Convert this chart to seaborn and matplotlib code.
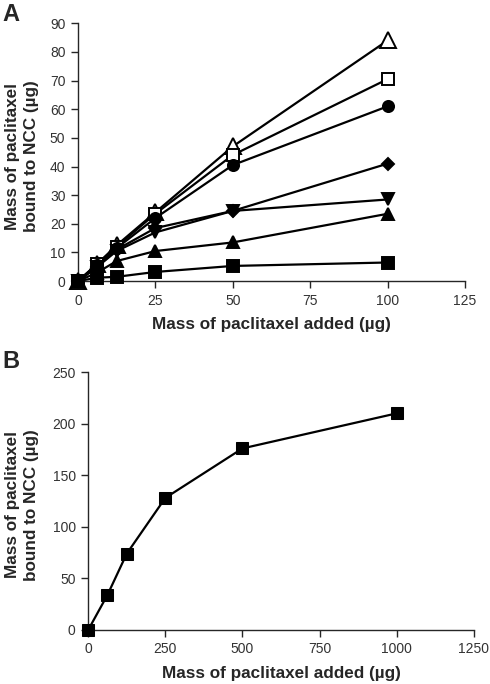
"""
Paclitaxel binding to NCC - panels A and B
"""

import pandas as pd
import matplotlib
matplotlib.use("Agg")
import matplotlib.pyplot as plt
import seaborn as sns

# Panel A data
x_a = [0, 6.25, 12.5, 25, 50, 100]
open_triangle = [0, 6.0, 12.5, 24.0, 47.0, 84.0]
open_square = [0, 6.0, 12.0, 23.5, 44.0, 70.5]
filled_circle = [0, 5.5, 11.5, 22.0, 40.5, 61.0]
filled_diamond = [0, 5.0, 11.0, 18.5, 24.5, 41.0]
down_triangle = [0, 5.0, 10.5, 17.0, 24.5, 28.5]
up_triangle = [0, 3.0, 7.0, 10.5, 13.5, 23.5]
filled_square = [0, 1.2, 1.5, 3.2, 5.3, 6.5]

# Panel B data
x_b = [0, 62.5, 125, 250, 500, 1000]
y_b = [0, 34, 74, 128, 176, 210]

x_label = "Mass of paclitaxel added (µg)"
y_label = "Mass of paclitaxel\nbound to NCC (µg)"

sns.set_style("ticks")
plt.rcParams['font.family'] = ['Liberation Sans', 'DejaVu Sans']

fig = plt.figure(figsize=(4.9, 6.84), dpi=100)
ax_a = fig.add_axes([0.159, 0.589, 0.790, 0.377])
ax_b = fig.add_axes([0.180, 0.079, 0.787, 0.377])

series_a = [
    (open_triangle, "^", "white", 11),
    (open_square, "s", "white", 9),
    (filled_circle, "o", "black", 8),
    (filled_diamond, "D", "black", 6),
    (down_triangle, "v", "black", 9),
    (up_triangle, "^", "black", 9),
    (filled_square, "s", "black", 8),
]

for values, mk, face, ms in series_a:
    df = pd.DataFrame({"added": x_a, "bound": values})
    sns.lineplot(data=df, x="added", y="bound", ax=ax_a, color="black",
                 linewidth=1.6, marker=mk, markersize=ms,
                 markerfacecolor=face, markeredgecolor="black",
                 markeredgewidth=1.4, clip_on=False, zorder=3)

df_b = pd.DataFrame({"added": x_b, "bound": y_b})
sns.lineplot(data=df_b, x="added", y="bound", ax=ax_b, color="black",
             linewidth=1.6, marker="s", markersize=8.5,
             markerfacecolor="black", markeredgecolor="black",
             clip_on=False, zorder=3)

ax_a.set_xlim(0, 125)
ax_a.set_ylim(0, 90)
ax_a.set_xticks([0, 25, 50, 75, 100, 125])
ax_a.set_yticks(range(0, 91, 10))

ax_b.set_xlim(0, 1250)
ax_b.set_ylim(0, 250)
ax_b.set_xticks([0, 250, 500, 750, 1000, 1250])
ax_b.set_yticks(range(0, 251, 50))

for ax in (ax_a, ax_b):
    sns.despine(ax=ax)
    ax.spines["left"].set_linewidth(1.0)
    ax.spines["bottom"].set_linewidth(1.0)
    ax.tick_params(direction="out", length=5, width=1.0, labelsize=10,
                   labelcolor="#333333", pad=4)
    ax.set_xlabel(x_label, fontsize=12.3, fontweight="bold", labelpad=7)
    ax.set_ylabel(y_label, fontsize=12.3, fontweight="bold",
                  linespacing=1.35, va="center", ha="center")

# label centres, in axes coordinates
ax_a.yaxis.set_label_coords(-0.145, 0.485)
ax_b.yaxis.set_label_coords(-0.172, 0.485)

fig.text(0.004, 0.995, "A", fontsize=17, fontweight="bold", va="top", ha="left")
fig.text(0.004, 0.488, "B", fontsize=17, fontweight="bold", va="top", ha="left")

fig.savefig("out.png", dpi=100)
